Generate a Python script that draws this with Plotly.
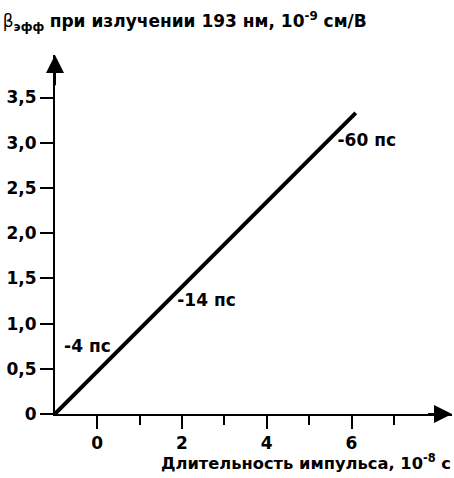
import plotly.graph_objects as go

# data
line_x = [-1.0, 6.1]
line_y = [0.0, 3.33]
label_text = ["-4 пс", "-14 пс", "-60 пс"]
label_x = [-0.78, 1.89, 5.67]
label_y = [0.73, 1.24, 3.01]
ytick_vals = [0, 0.5, 1.0, 1.5, 2.0, 2.5, 3.0, 3.5]
ytick_text = ["0", "0,5", "1,0", "1,5", "2,0", "2,5", "3,0", "3,5"]
xtick_vals = [0, 2, 4, 6]
xtick_text = ["0", "2", "4", "6"]

FONT = "DejaVu Sans, Liberation Sans, Arial, sans-serif"
FS = 17
X0, X1 = -0.995, 8.37
Y0, Y1 = 0.0, 3.97

fig = go.Figure()
fig.add_trace(go.Scatter(x=line_x, y=line_y, mode="lines",
                         line=dict(color="black", width=4), hoverinfo="skip",
                         showlegend=False))
fig.add_trace(go.Scatter(x=label_x, y=label_y, mode="text",
                         text=["<b>%s</b>" % t for t in label_text],
                         textposition="middle right",
                         textfont=dict(family=FONT, size=FS, color="black"),
                         hoverinfo="skip", showlegend=False, cliponaxis=False))

fig.update_layout(
    width=454, height=478,
    margin=dict(l=55, r=2, t=55, b=64),
    paper_bgcolor="white", plot_bgcolor="white",
    font=dict(family=FONT, size=FS, color="black"),
    title=dict(text="β<sub><b>эфф</b></sub> <b>при излучении 193 нм, 10<sup>-9</sup> см/В</b>",
               x=0.006, xanchor="left", xref="container",
               y=1 - 21 / 478, yanchor="middle", yref="container",
               font=dict(family=FONT, size=FS, color="black")),
    xaxis=dict(range=[X0, X1], showgrid=False, zeroline=False,
               showline=True, linecolor="black", linewidth=2,
               tickvals=xtick_vals, ticktext=["<b>%s</b>" % t for t in xtick_text],
               ticks="outside", ticklen=13, tickwidth=2, tickcolor="black",
               minor=dict(tick0=1, dtick=2, ticks="outside", ticklen=9,
                          tickwidth=2, tickcolor="black"),
               tickfont=dict(family=FONT, size=FS)),
    yaxis=dict(range=[Y0, Y1], showgrid=False, zeroline=False,
               showline=True, linecolor="black", linewidth=2,
               tickvals=ytick_vals, ticktext=["<b>%s</b>" % t for t in ytick_text],
               ticks="outside", ticklen=13, tickwidth=2, tickcolor="black",
               tickfont=dict(family=FONT, size=FS)),
)

# axis arrows
fig.add_annotation(x=X1, y=0, ax=X1 - 0.6, ay=0, xref="x", yref="y",
                   axref="x", ayref="y", showarrow=True, arrowhead=2,
                   arrowsize=1.8, arrowwidth=2, arrowcolor="black", text="")
fig.add_annotation(x=X0, y=Y1, ax=X0, ay=Y1 - 0.35, xref="x", yref="y",
                   axref="x", ayref="y", showarrow=True, arrowhead=2,
                   arrowsize=1.8, arrowwidth=2, arrowcolor="black", text="")

fig.add_annotation(text="<b>Длительность импульса, 10<sup>-8</sup> с</b>",
                   xref="paper", yref="paper", x=1.003, y=-0.133,
                   xanchor="right", yanchor="middle", showarrow=False,
                   font=dict(family=FONT, size=16.3, color="black"))

fig.write_html("out.html",
               config={"displayModeBar": False},
               post_script="document.body.style.margin='0';"
                           "document.body.style.overflow='hidden';")
